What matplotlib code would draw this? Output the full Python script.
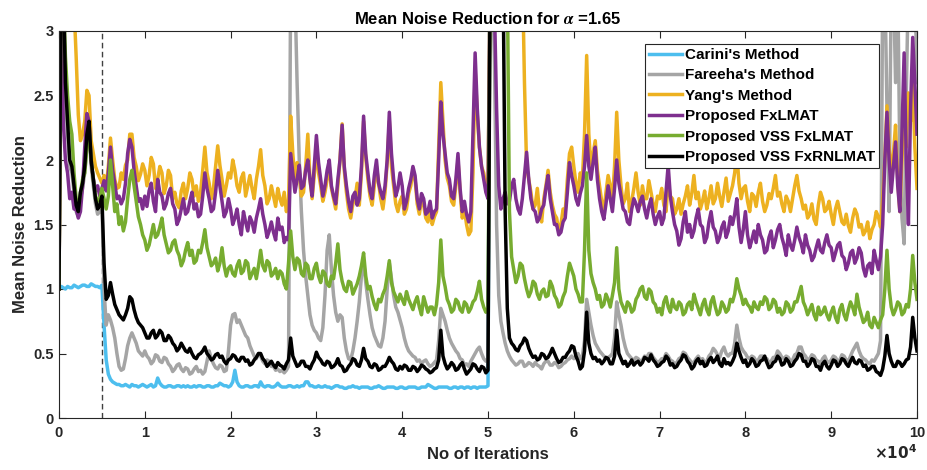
import numpy as np
import matplotlib
matplotlib.use("Agg")
import matplotlib.pyplot as plt

plt.rcParams['font.family'] = ['Liberation Sans', 'DejaVu Sans']
plt.rcParams['font.weight'] = 'bold'
plt.rcParams['axes.labelweight'] = 'bold'

# ---- data (one value every 250 iterations) ----
step = 250

carini = [
    1.00, 1.02, 1.01, 1.00, 1.02, 1.01, 1.01, 1.03, 1.02, 1.01, 1.02, 1.03, 1.03, 1.02, 1.02, 1.04, 1.03, 1.02, 1.02, 1.01,
    1.03, 0.72, 0.45, 0.34, 0.30, 0.28, 0.27, 0.26, 0.26, 0.25, 0.25, 0.26, 0.25, 0.24, 0.26, 0.25, 0.25, 0.24, 0.25, 0.26,
    0.25, 0.24, 0.25, 0.26, 0.24, 0.25, 0.31, 0.27, 0.25, 0.24, 0.24, 0.25, 0.25, 0.24, 0.24, 0.25, 0.25, 0.24, 0.25, 0.24,
    0.25, 0.24, 0.24, 0.25, 0.24, 0.25, 0.25, 0.24, 0.24, 0.25, 0.25, 0.24, 0.24, 0.25, 0.25, 0.27, 0.26, 0.25, 0.25, 0.24,
    0.25, 0.28, 0.37, 0.28, 0.25, 0.24, 0.24, 0.25, 0.25, 0.24, 0.24, 0.25, 0.25, 0.24, 0.28, 0.25, 0.24, 0.25, 0.25, 0.24,
    0.24, 0.25, 0.27, 0.25, 0.24, 0.24, 0.24, 0.25, 0.25, 0.24, 0.24, 0.25, 0.24, 0.25, 0.25, 0.28, 0.28, 0.25, 0.25, 0.24,
    0.24, 0.25, 0.24, 0.24, 0.25, 0.24, 0.24, 0.23, 0.24, 0.25, 0.25, 0.24, 0.24, 0.23, 0.23, 0.24, 0.24, 0.25, 0.24, 0.24,
    0.23, 0.24, 0.24, 0.24, 0.24, 0.23, 0.23, 0.24, 0.24, 0.25, 0.24, 0.23, 0.23, 0.24, 0.24, 0.24, 0.24, 0.23, 0.23, 0.24,
    0.24, 0.23, 0.23, 0.24, 0.24, 0.24, 0.24, 0.23, 0.23, 0.24, 0.24, 0.24, 0.26, 0.25, 0.24, 0.23, 0.23, 0.24, 0.24, 0.24,
    0.24, 0.24, 0.23, 0.23, 0.24, 0.24, 0.23, 0.24, 0.24, 0.23, 0.24, 0.24, 0.23, 0.24, 0.24, 0.23, 0.24, 0.24, 0.24, 0.24,
    0.25, 4.00,
]

fareeha = [
    1.00, 3.40, 3.30, 2.50, 2.20, 1.95, 1.90, 1.75, 1.60, 1.56, 1.70, 1.78, 1.90, 2.10, 2.20, 1.95, 1.80, 1.66, 1.58, 1.60,
    1.68, 1.00, 0.72, 0.80, 0.76, 0.70, 0.62, 0.50, 0.40, 0.37, 0.38, 0.46, 0.56, 0.62, 0.66, 0.62, 0.58, 0.52, 0.50, 0.48,
    0.52, 0.48, 0.46, 0.42, 0.44, 0.49, 0.48, 0.44, 0.43, 0.47, 0.46, 0.42, 0.40, 0.36, 0.38, 0.41, 0.42, 0.38, 0.36, 0.39,
    0.38, 0.34, 0.35, 0.38, 0.40, 0.36, 0.37, 0.34, 0.36, 0.44, 0.52, 0.46, 0.42, 0.39, 0.38, 0.41, 0.40, 0.36, 0.37, 0.52,
    0.72, 0.80, 0.81, 0.74, 0.76, 0.72, 0.68, 0.64, 0.62, 0.56, 0.52, 0.48, 0.46, 0.50, 0.48, 0.44, 0.42, 0.45, 0.44, 0.40,
    0.40, 0.37, 0.38, 0.36, 0.37, 0.35, 0.37, 0.40, 3.40, 3.40, 3.30, 2.60, 2.00, 1.60, 1.30, 1.10, 0.95, 0.80, 0.72, 0.68,
    0.66, 0.62, 0.60, 0.70, 0.95, 1.30, 1.42, 1.15, 0.95, 0.82, 0.75, 0.80, 0.78, 0.62, 0.52, 0.46, 0.45, 0.52, 0.62, 0.75,
    0.90, 1.10, 1.22, 1.05, 0.92, 0.80, 0.70, 0.64, 0.60, 0.56, 0.55, 0.62, 0.75, 1.00, 1.20, 1.08, 0.95, 0.86, 0.82, 0.76,
    0.70, 0.62, 0.56, 0.52, 0.50, 0.48, 0.47, 0.44, 0.45, 0.42, 0.44, 0.45, 0.42, 0.40, 0.41, 0.43, 0.45, 0.60, 0.85, 0.80,
    0.75, 0.68, 0.62, 0.58, 0.55, 0.52, 0.50, 0.46, 0.45, 0.41, 0.42, 0.40, 0.44, 0.47, 0.50, 0.53, 0.55, 0.50, 0.46, 0.44,
    0.45, 3.40, 3.40, 2.80, 1.50, 0.95, 0.75, 0.66, 0.58, 0.52, 0.48, 0.45, 0.43, 0.41, 0.42, 0.44, 0.44, 0.40, 0.41, 0.43,
    0.42, 0.40, 0.43, 0.41, 0.40, 0.38, 0.42, 0.44, 0.44, 0.41, 0.41, 0.43, 0.42, 0.39, 0.40, 0.42, 0.43, 0.45, 0.46, 0.48,
    0.46, 0.48, 0.50, 0.46, 0.48, 0.60, 0.92, 0.82, 0.72, 0.64, 0.58, 0.55, 0.52, 0.50, 0.48, 0.46, 0.47, 0.48, 0.50, 0.62,
    0.90, 0.80, 0.72, 0.62, 0.55, 0.50, 0.48, 0.46, 0.45, 0.47, 0.46, 0.44, 0.45, 0.48, 0.47, 0.50, 0.50, 0.47, 0.45, 0.43,
    0.44, 0.46, 0.46, 0.50, 0.48, 0.45, 0.44, 0.42, 0.43, 0.46, 0.47, 0.51, 0.50, 0.47, 0.45, 0.43, 0.43, 0.46, 0.48, 0.45,
    0.46, 0.43, 0.44, 0.48, 0.50, 0.54, 0.52, 0.49, 0.47, 0.52, 0.55, 0.50, 0.48, 0.50, 0.50, 0.58, 0.72, 0.62, 0.55, 0.52,
    0.50, 0.47, 0.46, 0.48, 0.47, 0.44, 0.45, 0.48, 0.48, 0.45, 0.46, 0.43, 0.44, 0.47, 0.47, 0.52, 0.50, 0.47, 0.46, 0.48,
    0.47, 0.44, 0.45, 0.49, 0.50, 0.55, 0.55, 0.50, 0.48, 0.45, 0.46, 0.49, 0.48, 0.45, 0.44, 0.42, 0.46, 0.48, 0.44, 0.43,
    0.45, 0.48, 0.47, 0.44, 0.45, 0.49, 0.48, 0.45, 0.44, 0.48, 0.52, 0.55, 0.58, 0.52, 0.48, 0.46, 0.45, 0.43, 0.42, 0.45,
    0.44, 0.47, 0.50, 0.60, 3.40, 3.40, 2.40, 1.60, 3.40, 3.40, 2.60, 3.40, 2.00, 1.55, 1.35, 2.50, 3.40, 3.40, 3.40, 3.40,
    2.60,
]

yang = [
    1.00, 3.50, 3.50, 3.50, 3.40, 3.40, 3.40, 3.20, 2.80, 2.35, 2.15, 2.20, 2.30, 2.54, 2.50, 2.15, 2.05, 1.95, 1.90, 1.86,
    1.82, 1.88, 1.79, 1.95, 2.17, 2.00, 1.85, 1.78, 1.79, 1.90, 1.85, 1.96, 2.00, 2.20, 2.20, 2.02, 1.95, 1.84, 1.89, 1.97,
    1.92, 1.80, 1.88, 2.02, 1.97, 1.78, 1.85, 1.95, 1.90, 1.74, 1.80, 1.92, 1.88, 1.70, 1.75, 1.66, 1.63, 1.76, 1.82, 1.70,
    1.78, 1.90, 1.85, 1.72, 1.80, 1.68, 1.75, 1.92, 2.10, 1.90, 1.82, 1.70, 1.78, 1.95, 2.11, 1.96, 1.85, 1.72, 1.80, 1.90,
    1.86, 2.00, 1.92, 1.80, 1.75, 1.86, 1.90, 1.72, 1.80, 1.88, 1.78, 1.70, 1.85, 1.95, 2.08, 1.88, 1.80, 1.66, 1.70, 1.80,
    1.72, 1.64, 1.78, 1.70, 1.65, 1.75, 1.60, 1.66, 2.34, 2.05, 1.85, 1.98, 1.90, 1.72, 1.75, 1.95, 2.20, 1.85, 1.70, 1.88,
    2.10, 1.90, 1.80, 1.68, 1.75, 1.85, 1.95, 1.78, 1.70, 1.62, 1.80, 2.00, 2.28, 1.92, 1.75, 1.62, 1.55, 1.66, 1.70, 1.82,
    1.65, 1.90, 2.30, 2.02, 1.85, 1.72, 1.65, 1.80, 1.95, 1.82, 1.70, 1.62, 1.75, 1.98, 2.30, 1.95, 1.80, 1.66, 1.60, 1.68,
    1.72, 1.58, 1.62, 1.74, 1.80, 1.92, 1.85, 1.66, 1.58, 1.70, 1.65, 1.55, 1.52, 1.62, 1.50, 1.56, 1.60, 2.10, 2.60, 2.30,
    2.00, 1.86, 1.80, 1.68, 1.65, 1.80, 2.00, 1.75, 1.55, 1.62, 1.50, 1.42, 1.45, 1.90, 2.70, 2.35, 2.10, 1.95, 1.90, 1.80,
    1.75, 3.50, 3.50, 3.50, 3.50, 3.50, 3.50, 3.50, 3.50, 3.50, 3.50, 3.50, 3.50, 3.50, 3.50, 3.50, 3.50, 2.60, 1.95, 1.85,
    1.75, 1.62, 1.65, 1.78, 1.60, 1.52, 1.70, 1.80, 1.92, 1.75, 1.65, 1.58, 1.55, 1.45, 1.50, 1.62, 1.60, 1.85, 2.05, 2.10,
    1.95, 1.82, 1.75, 1.90, 1.85, 2.20, 2.81, 2.20, 1.95, 2.05, 2.15, 1.92, 1.80, 1.68, 1.60, 1.75, 1.88, 1.80, 1.70, 1.95,
    2.37, 2.00, 1.80, 1.66, 1.70, 1.82, 1.60, 1.68, 1.78, 1.90, 1.75, 1.65, 1.80, 1.70, 1.70, 1.84, 1.75, 1.66, 1.60, 1.72,
    1.70, 1.78, 1.65, 1.60, 1.83, 1.72, 1.70, 1.58, 1.62, 1.70, 1.58, 1.66, 1.72, 1.80, 1.65, 1.74, 1.88, 1.70, 1.75, 1.62,
    1.68, 1.76, 1.62, 1.70, 1.80, 1.66, 1.70, 1.82, 1.72, 1.64, 1.75, 1.86, 1.68, 1.74, 1.80, 1.90, 2.06, 1.82, 1.70, 1.78,
    1.80, 1.68, 1.60, 1.74, 1.72, 1.64, 1.75, 1.82, 1.68, 1.60, 1.65, 1.74, 1.70, 1.78, 1.88, 1.72, 1.75, 1.66, 1.60, 1.72,
    1.68, 1.60, 1.70, 1.80, 1.88, 1.76, 1.70, 1.62, 1.65, 1.55, 1.58, 1.66, 1.54, 1.50, 1.65, 1.75, 1.70, 1.60, 1.62, 1.68,
    1.58, 1.50, 1.62, 1.68, 1.60, 1.52, 1.50, 1.58, 1.49, 1.44, 1.55, 1.62, 1.58, 1.48, 1.50, 1.42, 1.45, 1.52, 1.39, 1.46,
    1.50, 1.60, 1.56, 1.48, 1.70, 2.00, 2.42, 2.10, 1.90, 2.05, 2.27, 1.85, 1.60, 2.00, 2.40, 2.10, 2.52, 2.30, 2.60, 2.10,
    1.78,
]

fxlmat = [
    1.00, 3.30, 2.30, 2.00, 1.90, 1.70, 1.75, 1.62, 1.62, 1.55, 1.60, 1.80, 2.10, 2.36, 2.30, 1.98, 1.86, 1.76, 1.80, 1.72,
    1.78, 1.84, 1.76, 1.90, 2.10, 1.92, 1.82, 1.70, 1.72, 1.66, 1.70, 1.82, 2.05, 2.16, 2.10, 1.92, 1.80, 1.68, 1.70, 1.62,
    1.72, 1.64, 1.76, 1.82, 1.68, 1.60, 1.85, 1.75, 1.72, 1.62, 1.66, 1.74, 1.78, 1.66, 1.62, 1.50, 1.54, 1.62, 1.70, 1.58,
    1.60, 1.68, 1.75, 1.62, 1.66, 1.56, 1.58, 1.72, 1.90, 1.78, 1.70, 1.60, 1.62, 1.75, 1.92, 1.80, 1.68, 1.56, 1.60, 1.70,
    1.62, 1.50, 1.55, 1.62, 1.50, 1.42, 1.60, 1.52, 1.45, 1.56, 1.52, 1.44, 1.55, 1.62, 1.70, 1.58, 1.50, 1.40, 1.45, 1.52,
    1.44, 1.38, 1.55, 1.46, 1.48, 1.36, 1.40, 1.38, 2.05, 1.90, 1.75, 1.85, 1.96, 1.78, 1.80, 1.92, 2.00, 1.85, 1.72, 1.95,
    2.19, 1.98, 1.85, 1.72, 1.80, 1.92, 2.00, 1.80, 1.72, 1.66, 1.85, 2.00, 2.27, 1.95, 1.80, 1.68, 1.60, 1.72, 1.75, 1.65,
    1.70, 1.95, 2.34, 2.05, 1.90, 1.76, 1.70, 1.88, 2.00, 1.82, 1.75, 1.70, 1.80, 2.00, 2.37, 2.05, 1.85, 1.72, 1.78, 1.90,
    1.80, 1.62, 1.68, 1.78, 1.85, 1.95, 1.88, 1.70, 1.62, 1.74, 1.70, 1.58, 1.60, 1.68, 1.55, 1.60, 1.62, 2.00, 2.45, 2.20,
    2.05, 1.90, 1.85, 1.72, 1.70, 1.85, 2.05, 1.78, 1.60, 1.68, 1.58, 1.52, 1.60, 2.20, 2.83, 2.40, 2.10, 1.95, 1.85, 1.75,
    1.70, 3.40, 3.40, 3.20, 2.40, 1.80, 1.62, 1.70, 1.75, 1.66, 1.68, 1.80, 1.85, 1.70, 1.62, 1.58, 1.70, 1.88, 2.06, 1.85,
    1.70, 1.62, 1.60, 1.52, 1.55, 1.62, 1.65, 1.78, 1.88, 1.70, 1.60, 1.50, 1.50, 1.42, 1.44, 1.52, 1.55, 1.75, 1.98, 1.88,
    1.80, 1.70, 1.65, 1.74, 1.80, 1.95, 2.19, 1.95, 1.85, 1.98, 2.10, 1.85, 1.70, 1.60, 1.54, 1.66, 1.80, 1.70, 1.60, 1.78,
    2.00, 1.82, 1.72, 1.62, 1.60, 1.52, 1.50, 1.62, 1.70, 1.66, 1.60, 1.68, 1.72, 1.62, 1.55, 1.64, 1.70, 1.58, 1.50, 1.56,
    1.60, 1.50, 1.55, 1.75, 1.96, 1.72, 1.60, 1.50, 1.45, 1.34, 1.39, 1.52, 1.60, 1.44, 1.50, 1.40, 1.45, 1.55, 1.62, 1.50,
    1.48, 1.36, 1.40, 1.52, 1.60, 1.48, 1.45, 1.36, 1.40, 1.48, 1.52, 1.40, 1.45, 1.56, 1.50, 1.58, 1.70, 1.48, 1.36, 1.46,
    1.60, 1.42, 1.32, 1.38, 1.45, 1.36, 1.50, 1.42, 1.38, 1.28, 1.30, 1.40, 1.45, 1.32, 1.38, 1.46, 1.50, 1.40, 1.34, 1.26,
    1.42, 1.34, 1.30, 1.38, 1.48, 1.40, 1.35, 1.28, 1.42, 1.34, 1.30, 1.22, 1.25, 1.32, 1.38, 1.30, 1.28, 1.36, 1.42, 1.34,
    1.32, 1.22, 1.28, 1.34, 1.36, 1.26, 1.24, 1.15, 1.20, 1.28, 1.30, 1.20, 1.24, 1.32, 1.28, 1.16, 1.10, 1.18, 1.20, 1.12,
    1.30, 1.22, 1.15, 1.25, 1.50, 2.00, 2.37, 2.00, 1.75, 1.95, 2.14, 1.80, 1.60, 2.20, 2.83, 2.00, 1.50, 2.40, 2.95, 2.60,
    2.20,
]

vss_fxlmat = [
    1.00, 3.40, 3.30, 2.80, 2.50, 2.30, 2.20, 1.90, 1.70, 1.62, 1.75, 1.85, 1.90, 2.10, 2.25, 2.00, 1.85, 1.72, 1.68, 1.70,
    1.78, 1.70, 1.62, 1.72, 2.00, 1.80, 1.60, 1.66, 1.50, 1.56, 1.45, 1.52, 1.70, 1.85, 1.92, 1.80, 1.68, 1.56, 1.50, 1.42,
    1.38, 1.30, 1.34, 1.42, 1.50, 1.40, 1.42, 1.48, 1.55, 1.42, 1.35, 1.28, 1.30, 1.36, 1.38, 1.30, 1.26, 1.18, 1.22, 1.30,
    1.36, 1.26, 1.30, 1.20, 1.22, 1.30, 1.28, 1.36, 1.46, 1.32, 1.25, 1.18, 1.20, 1.24, 1.14, 1.20, 1.32, 1.18, 1.10, 1.16,
    1.18, 1.12, 1.10, 1.18, 1.22, 1.12, 1.14, 1.22, 1.20, 1.08, 1.12, 1.16, 1.08, 1.18, 1.30, 1.18, 1.14, 1.22, 1.20, 1.10,
    1.12, 1.16, 1.08, 1.14, 1.12, 1.04, 1.00, 1.20, 1.45, 1.25, 1.15, 1.24, 1.22, 1.12, 1.10, 1.20, 1.18, 1.08, 1.08, 1.16,
    1.20, 1.10, 1.05, 1.14, 1.12, 1.04, 1.02, 1.10, 1.08, 1.20, 1.35, 1.15, 1.06, 1.00, 0.98, 1.06, 1.05, 0.96, 1.00, 1.04,
    1.10, 1.18, 1.28, 1.10, 1.00, 1.02, 0.94, 0.88, 0.84, 0.92, 0.90, 0.96, 1.00, 1.10, 1.22, 1.05, 0.98, 0.94, 0.90, 0.96,
    0.92, 0.88, 0.98, 0.92, 0.88, 0.84, 0.90, 0.94, 0.86, 0.80, 0.94, 0.88, 0.82, 0.86, 0.86, 0.80, 0.88, 1.05, 1.38, 1.10,
    1.02, 0.92, 0.88, 0.82, 0.84, 0.92, 0.90, 0.84, 0.82, 0.90, 0.88, 0.82, 0.85, 0.90, 0.92, 0.98, 1.06, 0.92, 0.86, 0.82,
    0.84, 3.40, 3.40, 3.40, 3.40, 3.40, 3.40, 3.40, 3.40, 3.40, 1.60, 1.25, 1.15, 1.05, 1.10, 1.20, 1.18, 1.08, 1.00, 0.94,
    0.98, 1.06, 1.04, 0.96, 0.92, 0.98, 1.00, 0.94, 0.95, 1.06, 1.02, 0.95, 0.92, 0.86, 0.88, 0.94, 0.98, 1.10, 1.20, 1.15,
    1.10, 1.00, 0.96, 0.90, 0.90, 1.30, 1.90, 1.30, 1.12, 1.05, 1.00, 0.92, 0.95, 0.86, 0.88, 0.96, 0.92, 0.86, 0.95, 1.05,
    1.32, 1.00, 0.90, 0.86, 0.82, 0.90, 0.88, 0.82, 0.84, 0.92, 0.95, 1.00, 1.02, 0.94, 0.92, 1.00, 0.98, 0.90, 0.88, 0.82,
    0.85, 0.80, 0.90, 0.94, 0.86, 0.82, 0.92, 0.86, 0.84, 0.90, 0.88, 0.80, 0.82, 0.88, 0.90, 0.84, 0.96, 0.90, 0.85, 0.80,
    0.88, 0.92, 0.84, 0.80, 0.90, 0.94, 0.86, 0.80, 0.82, 0.90, 0.87, 0.82, 0.84, 0.92, 0.90, 0.96, 1.08, 1.00, 0.95, 0.88,
    0.92, 0.88, 0.86, 0.82, 0.90, 0.86, 0.84, 0.90, 0.88, 0.94, 0.92, 0.84, 0.86, 0.92, 0.90, 0.82, 0.85, 0.80, 0.82, 0.90,
    0.88, 0.82, 0.84, 0.90, 0.90, 0.96, 1.02, 0.90, 0.86, 0.80, 0.84, 0.88, 0.80, 0.76, 0.86, 0.80, 0.82, 0.86, 0.80, 0.76,
    0.82, 0.86, 0.78, 0.74, 0.84, 0.88, 0.80, 0.76, 0.84, 0.90, 0.86, 0.80, 0.96, 0.86, 0.80, 0.74, 0.76, 0.82, 0.72, 0.70,
    0.78, 0.74, 0.70, 0.76, 0.80, 1.00, 1.30, 1.00, 0.86, 0.80, 0.84, 0.90, 0.88, 0.80, 0.82, 0.88, 0.86, 1.00, 1.26, 1.05,
    0.92,
]

vss_fxrnlmat = [
    1.00, 3.50, 3.40, 2.60, 2.30, 2.00, 1.95, 1.80, 1.65, 1.60, 1.75, 1.82, 1.95, 2.20, 2.30, 2.00, 1.85, 1.70, 1.62, 1.65,
    1.72, 1.20, 0.92, 0.95, 1.05, 0.96, 0.88, 0.84, 0.80, 0.78, 0.76, 0.80, 0.85, 0.94, 0.92, 0.84, 0.78, 0.74, 0.72, 0.70,
    0.66, 0.62, 0.62, 0.66, 0.68, 0.62, 0.64, 0.68, 0.66, 0.60, 0.60, 0.64, 0.62, 0.58, 0.56, 0.52, 0.54, 0.58, 0.55, 0.52,
    0.51, 0.54, 0.50, 0.47, 0.46, 0.49, 0.50, 0.52, 0.55, 0.50, 0.48, 0.45, 0.46, 0.49, 0.50, 0.47, 0.48, 0.44, 0.42, 0.45,
    0.46, 0.49, 0.48, 0.45, 0.44, 0.47, 0.47, 0.44, 0.45, 0.41, 0.42, 0.45, 0.47, 0.50, 0.50, 0.46, 0.44, 0.40, 0.42, 0.44,
    0.41, 0.39, 0.43, 0.41, 0.40, 0.38, 0.42, 0.45, 0.62, 0.48, 0.44, 0.40, 0.41, 0.44, 0.44, 0.40, 0.40, 0.38, 0.42, 0.45,
    0.51, 0.47, 0.45, 0.42, 0.41, 0.44, 0.43, 0.39, 0.40, 0.42, 0.46, 0.41, 0.40, 0.36, 0.37, 0.40, 0.42, 0.46, 0.45, 0.41,
    0.40, 0.45, 0.54, 0.46, 0.44, 0.40, 0.39, 0.42, 0.41, 0.37, 0.38, 0.40, 0.40, 0.43, 0.47, 0.44, 0.42, 0.38, 0.37, 0.40,
    0.38, 0.41, 0.40, 0.37, 0.37, 0.40, 0.39, 0.36, 0.38, 0.41, 0.40, 0.38, 0.37, 0.35, 0.36, 0.38, 0.39, 0.45, 0.68, 0.48,
    0.42, 0.38, 0.40, 0.43, 0.41, 0.37, 0.38, 0.41, 0.43, 0.38, 0.34, 0.36, 0.38, 0.42, 0.41, 0.38, 0.36, 0.40, 0.39, 0.35,
    0.37, 3.50, 3.50, 3.50, 3.50, 3.50, 3.50, 3.50, 1.60, 0.85, 0.62, 0.58, 0.56, 0.53, 0.52, 0.56, 0.58, 0.62, 0.60, 0.54,
    0.50, 0.47, 0.48, 0.45, 0.46, 0.50, 0.49, 0.46, 0.47, 0.50, 0.54, 0.50, 0.46, 0.43, 0.44, 0.47, 0.47, 0.50, 0.52, 0.56,
    0.55, 0.48, 0.44, 0.38, 0.40, 0.52, 0.82, 0.58, 0.50, 0.46, 0.47, 0.44, 0.45, 0.42, 0.44, 0.47, 0.46, 0.42, 0.42, 0.48,
    0.68, 0.50, 0.46, 0.42, 0.44, 0.40, 0.42, 0.45, 0.41, 0.43, 0.44, 0.41, 0.43, 0.47, 0.46, 0.44, 0.49, 0.45, 0.43, 0.40,
    0.41, 0.43, 0.44, 0.48, 0.46, 0.41, 0.42, 0.39, 0.40, 0.43, 0.45, 0.49, 0.48, 0.44, 0.42, 0.38, 0.40, 0.44, 0.46, 0.42,
    0.44, 0.40, 0.41, 0.45, 0.47, 0.43, 0.45, 0.48, 0.42, 0.40, 0.46, 0.42, 0.43, 0.41, 0.44, 0.48, 0.58, 0.52, 0.47, 0.43,
    0.45, 0.40, 0.42, 0.46, 0.44, 0.40, 0.41, 0.44, 0.45, 0.48, 0.43, 0.39, 0.40, 0.43, 0.44, 0.48, 0.46, 0.41, 0.42, 0.46,
    0.44, 0.40, 0.41, 0.44, 0.46, 0.50, 0.49, 0.44, 0.44, 0.40, 0.42, 0.46, 0.45, 0.40, 0.40, 0.37, 0.42, 0.44, 0.40, 0.38,
    0.41, 0.45, 0.44, 0.40, 0.42, 0.46, 0.45, 0.42, 0.40, 0.44, 0.47, 0.43, 0.42, 0.45, 0.44, 0.40, 0.41, 0.37, 0.38, 0.40,
    0.40, 0.36, 0.35, 0.33, 0.38, 0.48, 0.64, 0.50, 0.44, 0.40, 0.40, 0.44, 0.43, 0.40, 0.42, 0.45, 0.46, 0.55, 0.78, 0.62,
    0.52,
]

series = [
    (carini, "Carini's Method", '#4DBEEE'),
    (fareeha, "Fareeha's Method", '#A5A5A5'),
    (yang, "Yang's Method", '#EDB120'),
    (fxlmat, "Proposed FxLMAT", '#7E2F8E'),
    (vss_fxlmat, "Proposed VSS FxLMAT", '#77AC30'),
    (vss_fxrnlmat, "Proposed VSS FxRNLMAT", '#000000'),
]

xtick_pos = [0, 10000, 20000, 30000, 40000, 50000, 60000, 70000, 80000, 90000, 100000]
xtick_labels = ['0', '1', '2', '3', '4', '5', '6', '7', '8', '9', '10']
ytick_pos = [0, 0.5, 1, 1.5, 2, 2.5, 3]
ytick_labels = ['0', '0.5', '1', '1.5', '2', '2.5', '3']
switch_point = 5000

# ---- figure ----
fig = plt.figure(figsize=(9.28, 4.7), dpi=100)
ax = fig.add_axes([59 / 928, 52 / 470, 858 / 928, 387 / 470])

ax.axvline(switch_point, color='#404040', lw=1.0, ls=(0, (4, 2.5)), zorder=1)

for vals, name, col in series:
    x = np.arange(len(vals)) * step
    ax.plot(x, vals, color=col, lw=2.5, label=name, zorder=2)

ax.set_xlim(0, 100000)
ax.set_ylim(0, 3)
ax.set_xticks(xtick_pos)
ax.set_xticklabels(xtick_labels, fontweight='bold', fontsize=10.5, color='#262626')
ax.set_yticks(ytick_pos)
ax.set_yticklabels(ytick_labels, fontweight='bold', fontsize=10.5, color='#262626')

ax.tick_params(direction='in', length=5, width=0.8, top=True, right=True,
               color='#262626')
ax.tick_params(axis='x', pad=6)
ax.tick_params(axis='y', pad=4)
for s in ax.spines.values():
    s.set_color('#262626')
    s.set_linewidth(0.8)

ax.set_title(r'Mean Noise Reduction for $\alpha$ =1.65', fontsize=12,
             fontweight='bold', pad=5, math_fontfamily='stix')
ax.set_xlabel('No of Iterations', fontsize=12, fontweight='bold', color='#262626')
ax.set_ylabel('Mean Noise Reduction', fontsize=12, fontweight='bold', color='#262626')
ax.xaxis.set_label_coords(0.5, -0.075)
ax.yaxis.set_label_coords(-0.036, 0.5)

fig.text(917 / 928, 8 / 470, r'$\mathbf{\times 10^{4}}$', ha='right', va='bottom',
         fontsize=11, color='#262626')

leg = ax.legend(loc='upper right', bbox_to_anchor=(0.956, 0.966), fontsize=11,
                frameon=True, fancybox=False, framealpha=1, edgecolor='#262626',
                borderpad=0.25, labelspacing=0.42, handlelength=2.2,
                handletextpad=0.2, borderaxespad=0)
leg.get_frame().set_linewidth(0.8)

fig.savefig('out.png', dpi=100)
